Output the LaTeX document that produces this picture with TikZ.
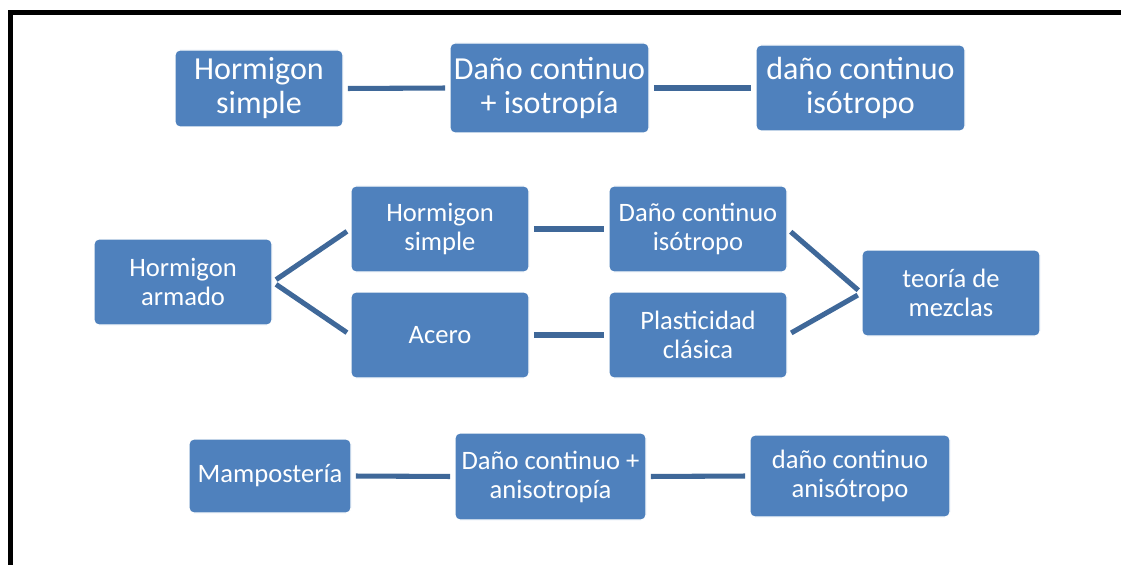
\documentclass[tikz,border=0pt]{standalone}
\usepackage{fontspec}
\setmainfont{Carlito}
\usetikzlibrary{positioning}

\definecolor{boxblue}{HTML}{4F81BD}
\definecolor{linkblue}{HTML}{3F6899}

\begin{document}
\begin{tikzpicture}[x=0.025cm, y=-0.025cm,
    box/.style={rectangle, rounded corners=3.5pt, fill=boxblue, draw=white, line width=0.8pt,
        text=white, align=center, inner sep=0pt,
        font=\fontsize{18.9}{20.6}\selectfont},
    bigbox/.style={box, font=\fontsize{22.8}{24.2}\selectfont},
    link/.style={draw=linkblue, line width=3.6pt, shorten <=3pt, shorten >=3pt}]

\useasboundingbox (0,0) rectangle (1121,565);

% black frame, open at the right and at the bottom
\draw[line width=3.6pt, black] (10.5,565) -- (10.5,12.5) -- (1121,12.5);

% first row: plain concrete
\node[bigbox, minimum width=168*0.025cm, minimum height=77*0.025cm] (hs1) at (259,88.5) {Hormigon\\simple};
\node[bigbox, minimum width=199*0.025cm, minimum height=90*0.025cm] (dci) at (549.5,88) {Daño continuo\\+ isotropía};
\node[bigbox, minimum width=209*0.025cm, minimum height=86*0.025cm] (dciso) at (860.5,88) {daño continuo\\isótropo};
\draw[link] (hs1.east) -- (dci.west);
\draw[link] (dci.east) -- (dciso.west);

% second row: reinforced concrete splits in two and joins again
\node[box, minimum width=178*0.025cm, minimum height=86*0.025cm] (ha) at (183,282) {Hormigon\\armado};
\node[box, minimum width=178*0.025cm, minimum height=86*0.025cm] (hs2) at (440,229) {Hormigon\\simple};
\node[box, minimum width=178*0.025cm, minimum height=86*0.025cm] (acero) at (440,335) {Acero};
\node[box, minimum width=178*0.025cm, minimum height=86*0.025cm] (dc2) at (698,229) {Daño continuo\\isótropo};
\node[box, minimum width=178*0.025cm, minimum height=86*0.025cm] (pc) at (698,335) {Plasticidad\\clásica};
\node[box, minimum width=178*0.025cm, minimum height=86*0.025cm] (tm) at (951,293) {teoría de\\mezclas};
\draw[link] (ha.east) -- (hs2.west);
\draw[link] (ha.east) -- (acero.west);
\draw[link] (hs2.east) -- (dc2.west);
\draw[link] (acero.east) -- (pc.west);
\draw[link] (dc2.east) -- (tm.west);
\draw[link] (pc.east) -- (tm.west);

% third row: masonry
\node[box, minimum width=162*0.025cm, minimum height=74*0.025cm] (mamp) at (270,476) {Mampostería};
\node[box, minimum width=191*0.025cm, minimum height=87*0.025cm] (dca) at (550.5,476.5) {Daño continuo +\\anisotropía};
\node[box, minimum width=200*0.025cm, minimum height=82*0.025cm] (dcan) at (850,476) {daño continuo\\anisótropo};
\draw[link] (mamp.east) -- (dca.west);
\draw[link] (dca.east) -- (dcan.west);

\end{tikzpicture}
\end{document}
